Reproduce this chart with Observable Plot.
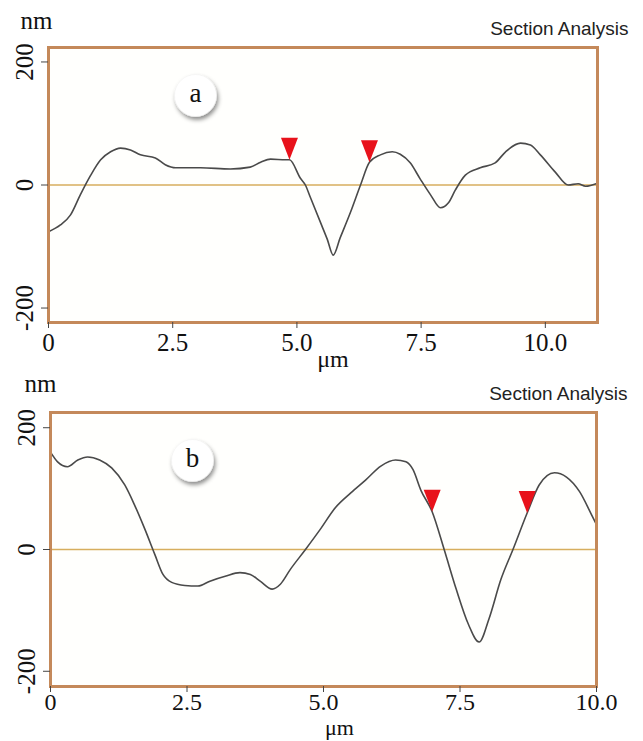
<!DOCTYPE html>
<html>
<head>
<meta charset="utf-8">
<script src="https://cdn.jsdelivr.net/npm/d3@7"></script>
<script src="https://cdn.jsdelivr.net/npm/@observablehq/plot@0.6"></script>
<style>
  html, body { margin: 0; padding: 0; background: #ffffff; }
  #wrap { position: relative; width: 643px; height: 741px; overflow: hidden; }
  #wrap > div, #wrap > svg { position: absolute; left: 0; }
</style>
</head>
<body>
<div id="wrap"><div id="pa" style="top:0px"></div><div id="pb" style="top:368px"></div></div>
<script>
// ---- data ----
const aX = [0,0.24,0.44,0.64,0.85,1.05,1.25,1.45,1.65,1.85,2.15,2.35,2.56,3.06,3.66,4.06,4.27,4.47,4.77,4.85,5.07,5.17,5.27,5.47,5.61,5.73,5.87,6.08,6.28,6.46,6.68,6.92,7.08,7.28,7.48,7.69,7.89,8.05,8.19,8.39,8.69,8.99,9.20,9.50,9.70,9.90,10.20,10.46,10.66,10.81,11.05];
const aY = [-76,-65,-49,-16,16,41,54,60,57,49,44,33,28,28,26,29,37,42,41,41,11,0,-20,-60,-88,-114,-86,-44,0,37,49,54,50,36,10,-16,-37,-29,-8,16,28,36,54,68,65,49,21,0,2,-2,3];
const aMarkX = [4.85, 6.46];
const aMarkY = [41, 37];

const bX = [0,0.13,0.31,0.50,0.68,0.90,1.12,1.36,1.54,1.73,1.91,2.06,2.22,2.46,2.70,2.92,3.20,3.47,3.66,3.84,4.06,4.21,4.39,4.67,4.94,5.22,5.50,5.77,6.05,6.32,6.51,6.64,6.78,6.99,7.21,7.43,7.65,7.85,8.03,8.25,8.47,8.73,8.95,9.23,9.45,9.69,9.91,10.0];
const bY = [160,144,136,147,152,147,134,106,73,33,-8,-41,-54,-59,-60,-52,-44,-38,-41,-52,-65,-57,-33,0,33,69,93,114,137,147,144,131,98,62,0,-65,-122,-152,-114,-49,0,60,106,126,119,95,57,41];
const bMarkX = [6.99, 8.73];
const bMarkY = [62, 60];

const xTicks = [0, 2.5, 5, 7.5, 10];
const xTickLabels = ["0", "2.5", "5.0", "7.5", "10.0"];
const yTicks = [-200, 0, 200];
const yTickLabels = ["-200", "0", "200"];

// ---- styles ----
const FRAME = "#c4895a";
const ZERO = "#d7ae5e";
const CURVE = "#4a4a4a";
const MARK = "#e8121b";
const SERIF = "Liberation Serif, Times New Roman, serif";
const SANS = "Liberation Sans, Arial, sans-serif";

const markerSymbol = {
  draw(context) {
    context.moveTo(-8.5, -22);
    context.lineTo(8.5, -22);
    context.lineTo(0, 0);
    context.closePath();
  }
};

function panel(cfg) {
  const pts = cfg.xs.map((x, i) => ({x, y: cfg.ys[i]}));
  const marks = cfg.mx.map((x, i) => ({x, y: cfg.my[i]}));
  const svg = Plot.plot({
    width: 643,
    height: cfg.height,
    marginTop: cfg.mt,
    marginBottom: cfg.mb,
    marginLeft: cfg.ml,
    marginRight: cfg.mr,
    style: {fontFamily: SERIF, background: "transparent", overflow: "visible", color: "#222"},
    x: {domain: cfg.xDomain},
    y: {domain: cfg.yDomain},
    marks: [
      Plot.frame({fill: "#fffffd", stroke: null}),
      Plot.ruleY([0], {stroke: ZERO, strokeWidth: 1.6}),
      Plot.line(pts, {x: "x", y: "y", stroke: CURVE, strokeWidth: 1.6, curve: "monotone-x"}),
      Plot.dot(marks, {x: "x", y: "y", symbol: markerSymbol, fill: MARK, stroke: null, r: 5}),
      Plot.frame({stroke: FRAME, strokeWidth: 3}),
      Plot.axisX({ticks: xTicks, tickSize: 6, tickPadding: cfg.xpad, fontSize: cfg.xfs, fontFamily: SERIF,
        tickFormat: d => xTickLabels[xTicks.indexOf(d)], label: null, stroke: "#444", fill: "#111"}),
      Plot.axisY({ticks: yTicks, tickSize: 7, tickFormat: () => "", label: null, stroke: "#444"}),
      Plot.text(yTicks, {y: d => d, text: (d, i) => yTickLabels[i], frameAnchor: "left", dx: cfg.ydx,
        rotate: -90, textAnchor: "middle", lineAnchor: "middle", fontSize: 25, fontFamily: SERIF, fill: "#111"}),
      Plot.text(["nm"], {text: d => d, frameAnchor: "top-left", dx: cfg.nmdx, dy: cfg.nmdy,
        textAnchor: "middle", lineAnchor: "middle", fontSize: 25, fontFamily: SERIF, fill: "#111"}),
      Plot.text(["Section Analysis"], {text: d => d, frameAnchor: "top-right", dx: 31, dy: -19,
        textAnchor: "end", lineAnchor: "middle", fontSize: 19, fontFamily: SANS, fill: "#222"}),
      Plot.text(["\u03bcm"], {text: d => d, frameAnchor: "bottom", dx: cfg.umdx, dy: cfg.umdy,
        textAnchor: "middle", lineAnchor: "middle", fontSize: cfg.umfs, fontFamily: SERIF, fill: "#111"}),
      Plot.dot([cfg.badge], {frameAnchor: "top-left", dx: cfg.bdx, dy: cfg.bdy, r: 21, fill: "#ffffff",
        stroke: "#eeeeee", strokeWidth: 0.5, ariaDescription: "badge"}),
      Plot.text([cfg.badge], {text: d => d, frameAnchor: "top-left", dx: cfg.bdx, dy: cfg.bdy - 2,
        textAnchor: "middle", lineAnchor: "middle", fontSize: 27, fontFamily: SERIF, fill: "#111"})
    ]
  });
  // drop shadow for the circular badge
  const ns = "http://www.w3.org/2000/svg";
  const defs = document.createElementNS(ns, "defs");
  defs.innerHTML = `<filter id="sh-${cfg.badge}" x="-50%" y="-50%" width="200%" height="200%">
    <feDropShadow dx="1.5" dy="3" stdDeviation="2.2" flood-color="#000" flood-opacity="0.45"/></filter>`;
  svg.insertBefore(defs, svg.firstChild);
  d3.select(svg).selectAll('g[aria-description="badge"]').attr("filter", `url(#sh-${cfg.badge})`);
  return svg;
}

document.getElementById("pa").appendChild(panel({
  xs: aX, ys: aY, mx: aMarkX, my: aMarkY,
  height: 368, mt: 47, mb: 46, ml: 48, mr: 46,
  xDomain: [0, 11.05], yDomain: [-223.5, 223.5], xpad: 5, xfs: 25,
  ydx: -24, nmdx: -12, nmdy: -27, umdx: 10, umdy: 37, umfs: 24,
  badge: "a", bdx: 147, bdy: 48
}));

document.getElementById("pb").appendChild(panel({
  xs: bX, ys: bY, mx: bMarkX, my: bMarkY,
  height: 373, mt: 44, mb: 55, ml: 50, mr: 47,
  xDomain: [0, 10], yDomain: [-225, 225], xpad: 0, xfs: 24,
  ydx: -24, nmdx: -10, nmdy: -29, umdx: 16, umdy: 41, umfs: 22,
  badge: "b", bdx: 142, bdy: 48
}));
</script>
</body>
</html>
